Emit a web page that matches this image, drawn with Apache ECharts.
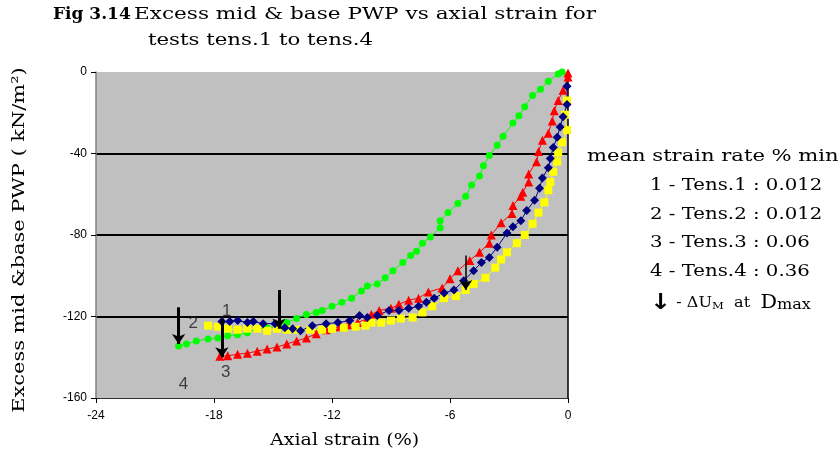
<!DOCTYPE html>
<html>
<head>
<meta charset="utf-8">
<script src="https://cdn.jsdelivr.net/npm/echarts@6/dist/echarts.min.js"></script>
<style>
  html, body { margin: 0; padding: 0; background: #fff; }
  #chart { width: 840px; height: 465px; }
</style>
</head>
<body>
<div id="chart"></div>
<script>
// Excess mid & base pore water pressure against axial strain, tests tens.1 - tens.4
// Each point: [axial strain %, excess PWP kN/m2]

const tens1 = [
  [-0.05,-7],[-0.05,-16],[-0.25,-22],[-0.4,-27],[-0.55,-32],[-0.75,-37],[-0.9,-42.5],[-1.0,-47],
  [-1.3,-52],[-1.45,-57],[-1.7,-63],[-2.1,-68],[-2.4,-73],[-2.8,-76],[-3.1,-79],[-3.6,-86],
  [-4.0,-91],[-4.4,-93.5],[-4.8,-97.5],[-5.3,-102.5],[-5.8,-107],[-6.3,-108.5],[-6.8,-111],
  [-7.2,-113],[-7.6,-115],[-8.1,-116],[-8.6,-117],[-9.1,-117],[-9.7,-119.5],[-10.2,-120.5],
  [-10.6,-119.5],[-11.1,-122],[-11.7,-123],[-12.3,-123.5],[-13.0,-124.5],[-13.6,-127],
  [-14.0,-126],[-14.4,-125.5],[-14.9,-123.5],[-15.5,-123.5],[-16.0,-122.5],[-16.3,-123],
  [-16.8,-122],[-17.2,-122.5],[-17.6,-122.5]
];

const tens2 = [
  [-0.05,-14],[-0.15,-21],[-0.05,-28.5],[-0.3,-34.5],[-0.5,-39.5],[-0.55,-44],[-0.75,-49],
  [-0.9,-54],[-1.0,-58],[-1.2,-64],[-1.5,-69],[-1.8,-74.5],[-2.2,-80],[-2.6,-84],[-3.1,-88.5],
  [-3.4,-92],[-3.7,-96],[-4.2,-101],[-4.8,-104],[-5.2,-107],[-5.7,-110],[-6.3,-111],[-6.9,-115],
  [-7.4,-118],[-7.9,-120.5],[-8.5,-121],[-9.0,-122],[-9.5,-123],[-10.0,-123],[-10.3,-124.5],
  [-10.8,-125],[-11.4,-125.5],[-12.0,-126],[-12.5,-126.5],[-13.1,-126.5],[-13.8,-126.5],
  [-14.3,-126.5],[-14.8,-126],[-15.3,-127],[-15.8,-126],[-16.3,-126],[-16.8,-126.5],
  [-17.3,-126],[-17.8,-125],[-18.3,-124.5]
];

const tens3 = [
  [0,-0.5],[0,-2.5],[-0.25,-9],[-0.5,-14],[-0.7,-19],[-0.8,-24],[-1.0,-30],[-1.3,-33.5],
  [-1.5,-39],[-1.6,-44],[-2.0,-50],[-2.0,-54],[-2.3,-59],[-2.4,-61],[-2.8,-65.5],[-2.85,-69.5],
  [-3.4,-74],[-3.9,-80],[-4.0,-84],[-4.5,-88.5],[-5.0,-92.5],[-5.6,-97.5],[-6.0,-101.5],
  [-6.4,-106],[-7.1,-108],[-7.6,-111],[-8.1,-112],[-8.6,-114],[-9.0,-116],[-9.6,-117],
  [-10.0,-119],[-10.2,-121],[-10.7,-123],[-11.2,-124],[-11.6,-125],[-12.3,-126.5],
  [-12.8,-128.5],[-13.3,-130.5],[-13.8,-132],[-14.3,-133.5],[-14.8,-135],[-15.3,-136],
  [-15.8,-137],[-16.3,-138],[-16.8,-138.5],[-17.3,-139.3],[-17.7,-139.5]
];

const tens4 = [
  [-0.3,0],[-0.5,-1],[-1.0,-4.5],[-1.4,-8.5],[-1.8,-11.5],[-2.2,-17],[-2.5,-21.5],[-2.8,-25],
  [-3.3,-31.5],[-3.6,-36],[-4.0,-41],[-4.3,-46],[-4.5,-51],[-4.9,-55.5],[-5.2,-61],[-5.6,-64.5],
  [-6.1,-69],[-6.5,-73],[-6.5,-76.5],[-7.0,-81],[-7.4,-84],[-7.7,-88],[-8.0,-90],[-8.4,-93.5],
  [-8.9,-97.5],[-9.3,-101],[-9.7,-104],[-10.2,-105],[-10.5,-107.5],[-11.0,-111],[-11.5,-113],
  [-12.0,-115],[-12.5,-117],[-12.8,-118],[-13.3,-119],[-13.8,-121],[-14.3,-123],[-14.7,-125],
  [-15.3,-125.5],[-15.8,-126],[-16.3,-128],[-16.8,-129],[-17.3,-129.5],[-17.8,-130.5],
  [-18.3,-131],[-18.9,-132],[-19.4,-133.5],[-19.8,-134.5]
];

// ΔU_M at D_max markers: [strain, PWP at tail, PWP at head, line width]
const peakArrows = [
  [-14.7, -107, -126, 3],
  [-19.8, -115.5, -133.5, 3],
  [-17.6, -121, -140, 3],
  [-5.2, -90, -107, 1.5]
];

// Test number tags beside the curve ends
const tagNames = ['1', '2', '3', '4'];
const tagStrain = [-17.35, -19.05, -17.4, -19.55];
const tagPwp = [-117.5, -123.5, -147.5, -153.5];

const xTicks = { min: -24, max: 0, interval: 6 };
const yTicks = { min: -160, max: 0, interval: 40 };

const legendRows = [
  '1 - Tens.1 : 0.012',
  '2 - Tens.2 : 0.012',
  '3 - Tens.3 : 0.06',
  '4 - Tens.4 : 0.36'
];

const serif = '"DejaVu Serif", "Liberation Serif", serif';
const sans = '"Liberation Sans", Arial, sans-serif';

function curve(name, data, color, symbol, size) {
  return {
    name: name,
    type: 'line',
    data: data,
    symbol: symbol,
    symbolSize: size,
    showSymbol: true,
    lineStyle: { color: color, width: 1 },
    itemStyle: { color: color, borderWidth: 0 },
    emphasis: { disabled: true },
    animation: false,
    z: 3
  };
}

// plain text block, stretched horizontally by sx
function label(text, x, y, sx, extra) {
  return Object.assign({
    type: 'text', x: x, y: y, scaleX: sx, scaleY: 1,
    style: { text: text, font: '17px ' + serif, fill: '#000', verticalAlign: 'top' }
  }, extra || {});
}

const chart = echarts.init(document.getElementById('chart'), null, { renderer: 'canvas' });

const option = {
  backgroundColor: '#ffffff',
  animation: false,
  grid: {
    left: 96, right: 272, top: 72, bottom: 67,
    show: true, backgroundColor: '#c0c0c0', borderWidth: 0
  },
  xAxis: {
    type: 'value',
    min: xTicks.min, max: xTicks.max, interval: xTicks.interval,
    axisLine: { show: true, onZero: false, lineStyle: { color: '#303030', width: 1 } },
    axisTick: { show: true, length: 5, lineStyle: { color: '#000' } },
    axisLabel: { fontFamily: sans, fontSize: 12, color: '#000', margin: 12 },
    splitLine: { show: false }
  },
  yAxis: [{
    type: 'value',
    min: yTicks.min, max: yTicks.max, interval: yTicks.interval,
    axisLine: { show: true, onZero: false, lineStyle: { color: '#808080', width: 1.5 } },
    axisTick: { show: true, length: 5, lineStyle: { color: '#000' } },
    axisLabel: { fontFamily: sans, fontSize: 12, color: '#000', margin: 9 },
    splitLine: { show: true, showMaxLine: false, showMinLine: false, lineStyle: { color: '#000', width: 2 } }
  }, {
    type: 'value',
    position: 'right',
    min: yTicks.min, max: yTicks.max, interval: yTicks.interval,
    axisLine: { show: true, onZero: false, lineStyle: { color: '#000', width: 1.5 } },
    axisTick: { show: false },
    axisLabel: { show: false },
    splitLine: { show: false }
  }],
  series: [
    curve('Tens.4', tens4, '#00ff00', 'circle', 7),
    curve('Tens.3', tens3, '#ff0000', 'triangle', 9),
    curve('Tens.2', tens2, '#ffff00', 'rect', 8),
    curve('Tens.1', tens1, '#000080', 'diamond', 9),
    {
      type: 'lines',
      coordinateSystem: 'cartesian2d',
      symbol: ['none', 'arrow'],
      symbolSize: 10,
      animation: false,
      z: 5,
      lineStyle: { color: '#000', opacity: 1, curveness: 0 },
      data: peakArrows.map(a => ({
        coords: [[a[0], a[1]], [a[0], a[2]]],
        lineStyle: { color: '#000', width: a[3], opacity: 1 }
      }))
    },
    {
      type: 'scatter',
      symbolSize: 0,
      animation: false,
      z: 6,
      data: tagNames.map((n, i) => ({ name: n, value: [tagStrain[i], tagPwp[i]] })),
      label: {
        show: true,
        position: 'inside',
        formatter: p => p.name,
        fontFamily: sans, fontSize: 17, color: '#1a1a1a'
      }
    }
  ],
  graphic: [
    {
      type: 'text', x: 53, y: 6,
      style: { text: 'Fig 3.14', font: 'bold 17px ' + serif, fill: '#000', verticalAlign: 'top' }
    },
    label('Excess mid & base PWP vs axial strain for', 134, 6, 1.27),
    label('tests tens.1 to tens.4', 148, 32, 1.25),
    label('Axial strain (%)', 270, 432, 1.12),
    {
      type: 'text', x: 20, y: 240, rotation: Math.PI / 2, scaleX: 1.23,
      style: {
        text: 'Excess mid &base PWP ( kN/m\u00B2)', font: '17px ' + serif, fill: '#000',
        align: 'center', verticalAlign: 'middle'
      }
    },
    label('mean strain rate % min', 587, 148, 1.24)
  ].concat(legendRows.map((t, i) => label(t, 650, 177 + i * 28.7, 1.16))).concat([{
    type: 'text', x: 650, y: 292, scaleX: 1.15,
    style: {
      verticalAlign: 'top',
      text: '{a|\u2193}{s| - \u0394U}{m|M}{s|  at  }{d|D}{x|max}',
      rich: {
        a: { font: 'bold 22px "DejaVu Sans", sans-serif', fill: '#000' },
        s: { font: '14px ' + serif, fill: '#000' },
        m: { font: '10px ' + serif, fill: '#000', padding: [6, 0, 0, 0] },
        d: { font: '18px ' + serif, fill: '#000' },
        x: { font: '14px ' + serif, fill: '#000', padding: [4, 0, 0, 0] }
      }
    }
  }])
};

chart.setOption(option);
</script>
</body>
</html>
